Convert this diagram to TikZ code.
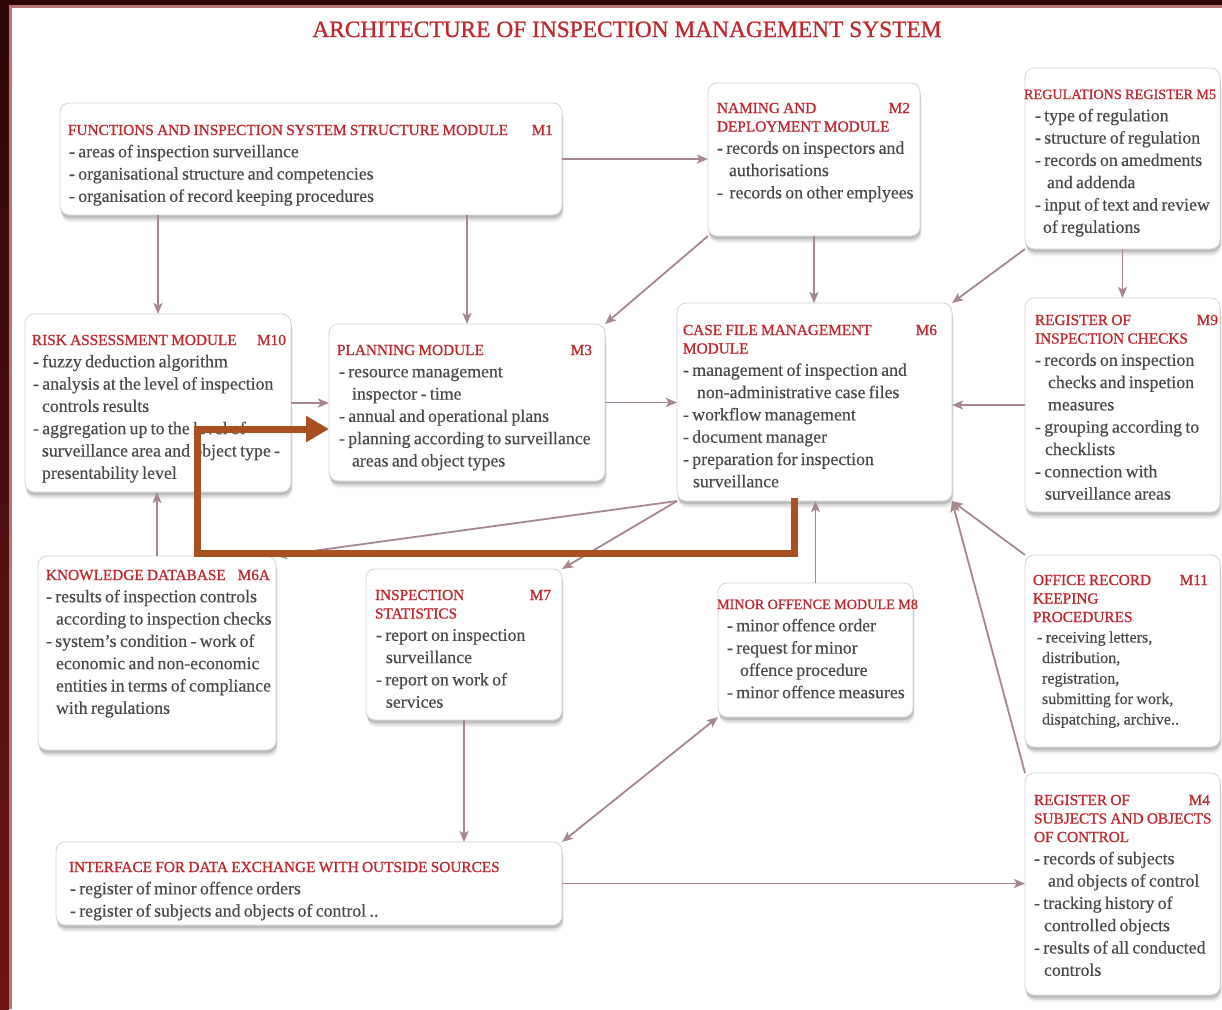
\documentclass[tikz,border=0pt]{standalone}
\usepackage{fontspec}
\setmainfont{Liberation Serif}
\newfontfamily\tfam{Liberation Serif}[Ligatures=TeX,RawFeature={embolden=0.9}]
\newfontfamily\bfam{Liberation Serif}[Ligatures=TeX,RawFeature={embolden=0.35}]
\usetikzlibrary{arrows.meta,shadows,calc}
\definecolor{bordA}{HTML}{2E0505}
\definecolor{bordB}{HTML}{701414}
\definecolor{bordL}{HTML}{B87575}
\definecolor{ttl}{HTML}{C0282D}
\definecolor{bod}{HTML}{484848}
\definecolor{arr}{HTML}{A6878C}
\definecolor{org}{HTML}{AA4F1F}
\definecolor{edgec}{HTML}{D4D4D4}
\newcommand\tf{\tfam\fontsize{15.3}{18.5}\selectfont\color{ttl}}
\newcommand\tfs{\tfam\fontsize{14.2}{18.5}\selectfont\color{ttl}}
\newcommand\bdf{\bfam\fontsize{17.8}{22.3}\selectfont\color{bod}}
\newcommand\bdfs{\bfam\fontsize{16.1}{20.5}\selectfont\color{bod}}
\newcommand\ind[1]{\hspace*{#1pt}}
\newcommand\mbx[5]{\node[box,minimum width={(#4-#2)*1pt},minimum height={(#5-#3)*1pt}] (#1) at ({(#2+#4)/2},{(#3+#5)/2}) {};}
\newcommand\tx[4]{\node[txt] (#1) at (#2,{#3-12.95}) {#4};}
\begin{document}
\begin{tikzpicture}[x=1pt,y=-1pt,
  box/.style={draw=edgec,line width=0.8pt,fill=white,rounded corners=9pt,inner sep=0pt,outer sep=0pt,
    drop shadow={shadow xshift=1.5pt,shadow yshift=-7pt,opacity=0.06,fill=black},
    drop shadow={shadow xshift=1pt,shadow yshift=-5pt,opacity=0.09,fill=black},
    drop shadow={shadow xshift=0.5pt,shadow yshift=-3pt,opacity=0.13,fill=black}},
  txt/.style={anchor=north west,inner sep=0pt,outer sep=0pt,text width=600pt,align=left},
  conn/.style={draw=arr,line width=1.8pt,-{Stealth[length=11pt,width=9pt,inset=2.5pt]}},
  orangearrow/.style={draw=org,line width=7pt,-{Triangle[length=23pt,width=25pt]}}]
\useasboundingbox (0,0) rectangle (1222,1009);
\fill[white] (0,0) rectangle (1222,1009);
\shade[top color=bordA,bottom color=bordB] (0,0) rectangle (9,1009);
\fill[bordA] (0,0) rectangle (1222,5);
\draw[bordL,line width=2.5pt] (10.5,1009) -- (10.5,6.5) -- (1222,6.5);

\node[anchor=base,inner sep=0pt,font=\tfam\fontsize{23.4}{28}\selectfont,text=ttl] (title) at (627,37) {ARCHITECTURE OF INSPECTION MANAGEMENT SYSTEM};

% boxes
\mbx{m1}{60}{103}{562}{215}
\mbx{m2}{708}{83}{920}{236}
\mbx{m5}{1025}{68}{1220}{249}
\mbx{m10}{25}{314}{291}{492}
\mbx{m3}{329}{324}{605}{481}
\mbx{m6}{677}{303}{952}{501}
\mbx{m9}{1025}{298}{1220}{512}
\mbx{m6a}{38}{556}{276}{750}
\mbx{m7}{366}{569}{562}{720}
\mbx{m8}{718}{583}{913}{717}
\mbx{m11}{1025}{555}{1220}{747}
\mbx{m4}{1025}{773}{1220}{995}
\mbx{ifx}{56}{842}{562}{925}

% texts
\tx{m1t}{68}{135}{{\tf\strut\makebox[485pt][l]{FUNCTIONS AND INSPECTION SYSTEM STRUCTURE MODULE\hfill M1}\par}
{\bdf\ind{1}- areas of inspection surveillance\\\ind{1}- organisational structure and competencies\\\ind{1}- organisation of record keeping procedures\par}}

\tx{m2t}{717}{113}{{\tf\strut\makebox[193pt][l]{NAMING AND\hfill M2}\\DEPLOYMENT MODULE\par}
{\bdf - records on inspectors and\\\ind{12}authorisations\\-\ \ records on other emplyees\par}}

\tx{m5t}{1024}{99}{{\tfs\strut REGULATIONS REGISTER M5\par}
{\bdf\ind{11}- type of regulation\\\ind{11}- structure of regulation\\\ind{11}- records on amedments\\\ind{23}and addenda\\\ind{11}- input of text and review\\\ind{19}of regulations\par}}

\tx{m10t}{32}{345}{{\tf\strut\makebox[254pt][l]{RISK ASSESSMENT MODULE\hfill M10}\par}
{\bdf\ind{1}- fuzzy deduction algorithm\\\ind{1}- analysis at the level of inspection\\\ind{10}controls results\\\ind{1}- aggregation up to the level of\\\ind{10}surveillance area and object type -\\\ind{10}presentability level\par}}

\tx{m3t}{337}{355}{{\tf\strut\makebox[255pt][l]{PLANNING MODULE\hfill M3}\par}
{\bdf\ind{2}- resource management\\\ind{15}inspector - time\\\ind{2}- annual and operational plans\\\ind{2}- planning according to surveillance\\\ind{15}areas and object types\par}}

\tx{m6t}{683}{335}{{\tf\strut\makebox[254pt][l]{CASE FILE MANAGEMENT\hfill M6}\\MODULE\par}
{\bdf - management of inspection and\\\ind{14}non-administrative case files\\- workflow management\\- document manager\\- preparation for inspection\\\ind{10}surveillance\par}}

\tx{m9t}{1035}{325}{{\tf\strut\makebox[183pt][l]{REGISTER OF\hfill M9}\\INSPECTION CHECKS\par}
{\bdf - records on inspection\\\ind{13}checks and inspetion\\\ind{13}measures\\- grouping according to\\\ind{10}checklists\\- connection with\\\ind{10}surveillance areas\par}}

\tx{m6at}{46}{580}{{\tf\strut\makebox[224pt][l]{KNOWLEDGE DATABASE\hfill M6A}\par}
{\bdf - results of inspection controls\\\ind{10}according to inspection checks\\- system’s condition - work of\\\ind{10}economic and non-economic\\\ind{10}entities in terms of compliance\\\ind{10}with regulations\par}}

\tx{m7t}{375}{600}{{\tf\strut\makebox[176pt][l]{INSPECTION\hfill M7}\\STATISTICS\par}
{\bdf\ind{1}- report on inspection\\\ind{11}surveillance\\\ind{1}- report on work of\\\ind{11}services\par}}

\tx{m8t}{717}{609}{{\tfs\strut MINOR OFFENCE MODULE M8\par}
{\bdf\ind{10}- minor offence order\\\ind{10}- request for minor\\\ind{23}offence procedure\\\ind{10}- minor offence measures\par}}

\tx{m11t}{1033}{585}{{\tf\strut\makebox[175pt][l]{OFFICE RECORD\hfill M11}\\KEEPING\\PROCEDURES\par}
{\bdfs\ind{4}- receiving letters,\\\ind{9}distribution,\\\ind{9}registration,\\\ind{9}submitting for work,\\\ind{9}dispatching, archive..\par}}

\tx{m4t}{1034}{805}{{\tf\strut\makebox[176pt][l]{REGISTER OF\hfill M4}\\SUBJECTS AND OBJECTS\\OF CONTROL\par}
{\bdf - records of subjects\\\ind{14}and objects of control\\- tracking history of\\\ind{10}controlled objects\\- results of all conducted\\\ind{10}controls\par}}

\tx{ifxt}{69}{872}{{\tf\strut INTERFACE FOR DATA EXCHANGE WITH OUTSIDE SOURCES\par}
{\bdf\ind{1}- register of minor offence orders\\\ind{1}- register of subjects and objects of control ..\par}}

% connectors
\draw[conn] (m1.east) -- (m1.east -| m2.west);
\draw[conn] (m1.south -| m10.north) -- (m10.north);
\draw[conn] (m1.south -| m3.north) -- (m3.north);
\draw[conn] (m2.south west) -- (m3.north east);
\draw[conn] (m2.south) -- (m2.south |- m6.north);
\draw[conn] (m5.south west) -- (m6.north east);
\draw[conn] (m5.south) -- (m9.north);
\draw[conn] (m10.east) -- (m10.east -| m3.west);
\draw[conn] (m3.east) -- (m3.east -| m6.west);
\draw[conn] (m9.west) -- (m9.west -| m6.east);
\draw[conn] (m6a.north) -- (m6a.north |- m10.south);
\draw[conn] (m6.south west) -- (m6a.north east);
\draw[conn] (m6.south west) -- (m7.north east);
\draw[conn] (m8.north) -- (m8.north |- m6.south);
\draw[conn] (m7.south) -- (m7.south |- ifx.north);
\draw[conn,{Stealth[length=11pt,width=9pt,inset=2.5pt]}-{Stealth[length=11pt,width=9pt,inset=2.5pt]}] (ifx.north east) -- (m8.south west);
\draw[conn] (ifx.east) -- (ifx.east -| m4.west);
\draw[conn] (m11.north west) -- (m6.south east);
\draw[conn] (m4.north west) -- (m6.south east);

% orange overlay arrow
\draw[orangearrow] ([xshift=-20pt,yshift=3pt]m6.south) -- ++(0,55) -| (197,429) -- (m3.west |- 0,429);
\end{tikzpicture}
\end{document}
